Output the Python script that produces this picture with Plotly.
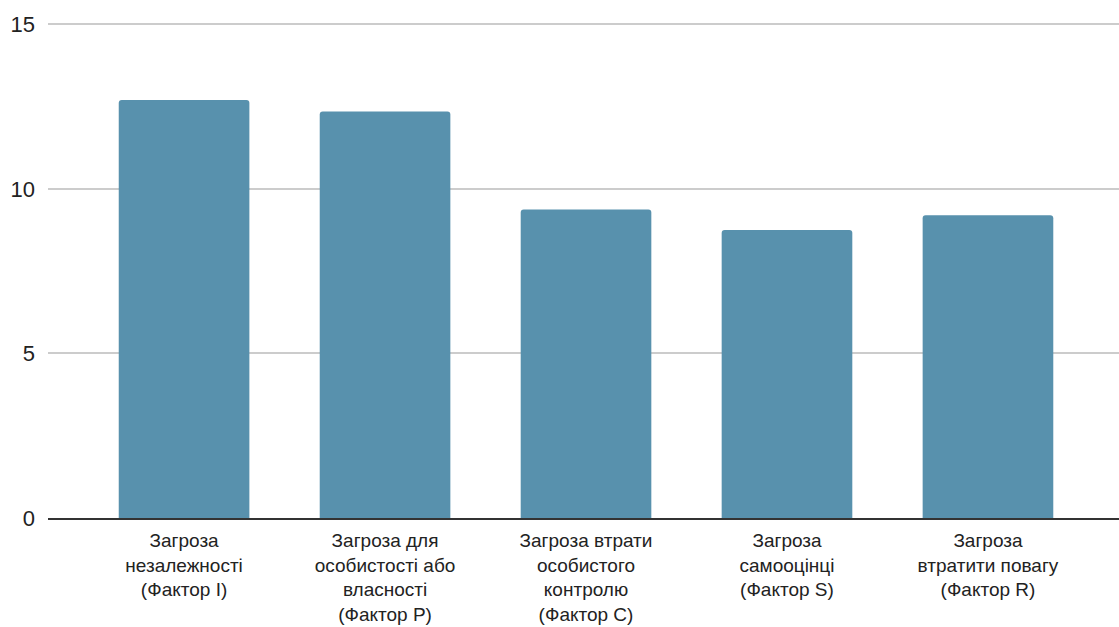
import plotly.graph_objects as go

categories = [
    "Загроза<br>незалежності<br>(Фактор I)",
    "Загроза для<br>особистості або<br>власності<br>(Фактор P)",
    "Загроза втрати<br>особистого<br>контролю<br>(Фактор C)",
    "Загроза<br>самооцінці<br>(Фактор S)",
    "Загроза<br>втратити повагу<br>(Фактор R)",
]
values = [12.7, 12.35, 9.37, 8.75, 9.2]
y_ticks = [0, 5, 10, 15]

fig = go.Figure()
fig.add_trace(go.Bar(
    x=list(range(len(categories))),
    y=values,
    marker=dict(color="#5891ad", line=dict(width=0), cornerradius=3),
    width=0.65,
))

fig.update_layout(
    width=1119, height=627,
    margin=dict(l=48, r=0, t=21, b=109),
    paper_bgcolor="white", plot_bgcolor="white",
    font=dict(family="Liberation Sans, Arial, sans-serif", color="#222222"),
    showlegend=False,
    xaxis=dict(
        range=[-0.677, 4.652],
        tickmode="array",
        tickvals=list(range(len(categories))),
        ticktext=categories,
        tickfont=dict(size=19, color="#222222"),
        showgrid=False, zeroline=False,
        showline=True, linecolor="#333333", linewidth=2,
        ticks="",
        ticklabelstandoff=4,
        automargin=False,
    ),
    yaxis=dict(
        range=[0, 15.1],
        tickmode="array",
        tickvals=y_ticks,
        tickfont=dict(size=22, color="#222222"),
        showgrid=True, gridcolor="#cccccc", gridwidth=1.5,
        zeroline=False,
        ticks="",
        ticklabelstandoff=12,
        automargin=False,
    ),
)

fig.write_html(
    "out.html",
    config={"displayModeBar": False},
    post_script="document.body.style.margin='0px';document.body.style.padding='0px';",
)
